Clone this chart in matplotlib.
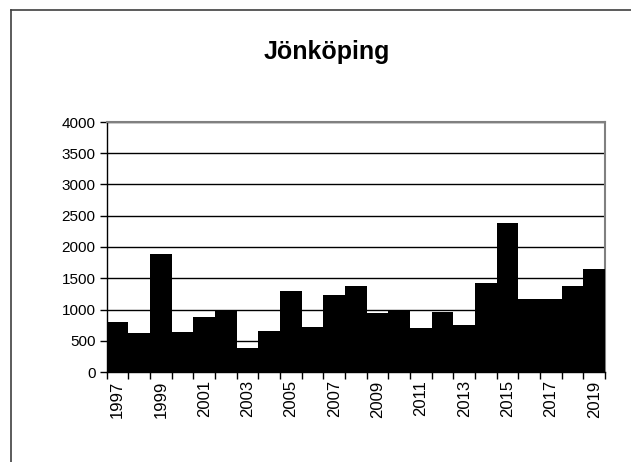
import matplotlib.pyplot as plt
import numpy as np

plt.rcParams['font.family'] = ['Liberation Sans', 'DejaVu Sans']

# data
years = list(range(1997, 2020))
values = [800, 620, 1880, 640, 880, 990, 390, 660, 1290, 720, 1240, 1370,
          950, 990, 700, 960, 760, 1430, 2390, 1170, 1170, 1370, 1650]
title = 'Jönköping'

fig = plt.figure(figsize=(6.31, 4.62), dpi=100)

# outer chart frame (left + top only)
fig.add_artist(plt.Line2D([11/631, 11/631], [0, 1 - 10/462], color='#404040', lw=1.2))
fig.add_artist(plt.Line2D([11/631, 1], [1 - 10/462, 1 - 10/462], color='#404040', lw=1.2))

ax = fig.add_axes([106.7/631, 1 - 372/462, (605 - 106.7)/631, 250/462])
x = np.arange(len(years))
ax.bar(x, values, width=1.0, color='black', zorder=3)

ax.set_xlim(-0.5, len(years) - 0.5)
ax.set_ylim(0, 4000)
ax.set_yticks(range(0, 4001, 500))
ax.yaxis.grid(True, color='black', lw=1.0, zorder=1)
ax.tick_params(axis='y', direction='out', length=5, width=1, labelsize=11, pad=3)

# tick marks between categories, labels every other year
ax.set_xticks(np.arange(-0.5, len(years), 1.0), minor=True)
ax.set_xticks(x[::2])
ax.set_xticklabels([str(y) for y in years[::2]], rotation=90)
ax.tick_params(axis='x', which='major', length=0, labelsize=12, pad=6)
ax.tick_params(axis='x', which='minor', direction='out', length=5, width=1)

for s in ['top', 'right']:
    ax.spines[s].set_color('#808080')
    ax.spines[s].set_linewidth(1.5)
for s in ['left', 'bottom']:
    ax.spines[s].set_color('black')
    ax.spines[s].set_linewidth(1.0)

fig.text(327/631, 1 - 59/462, title, ha='center', va='baseline',
         fontsize=18, fontweight='bold')

fig.savefig('out.png', dpi=100)
